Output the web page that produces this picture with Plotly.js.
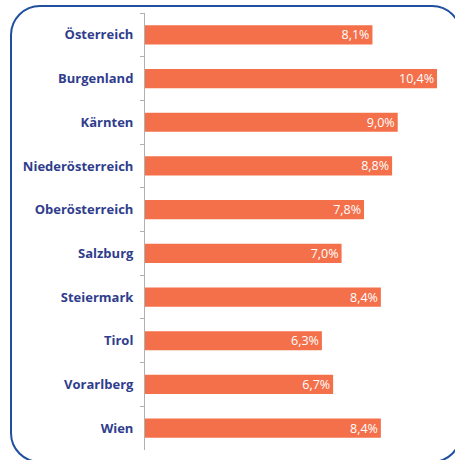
<!DOCTYPE html>
<html>
<head>
<meta charset="utf-8">
<script src="https://cdn.plot.ly/plotly-3.0.1.min.js"></script>
<style>
html,body{margin:0;padding:0;width:455px;height:460px;overflow:hidden;background:#fff;}
#frame{position:absolute;left:10px;top:5px;width:452px;height:458px;border:2.5px solid #1f4f9f;border-radius:30px;box-sizing:border-box;}
#chart{position:absolute;left:0;top:0;width:455px;height:460px;}
</style>
</head>
<body>
<div id="frame"></div>
<div id="chart"></div>
<script>
const regions = ["Österreich","Burgenland","Kärnten","Niederösterreich","Oberösterreich","Salzburg","Steiermark","Tirol","Vorarlberg","Wien"];
const rates = [8.1,10.4,9.0,8.8,7.8,7.0,8.4,6.3,6.7,8.4];
const rateLabels = rates.map(v => v.toFixed(1).replace('.', ',') + '%');

const trace = {
  type: 'bar',
  orientation: 'h',
  y: regions,
  x: rates,
  text: rateLabels,
  textposition: 'inside',
  insidetextanchor: 'end',
  constraintext: 'none',
  textangle: 0,
  insidetextfont: {family: 'Open Sans, sans-serif', size: 12.5, color: '#ffffff'},
  marker: {color: '#f4704a'},
  hoverinfo: 'none',
  cliponaxis: false
};

const layout = {
  width: 455, height: 460,
  margin: {l: 145, r: 0, t: 13, b: 10},
  paper_bgcolor: 'rgba(0,0,0,0)',
  plot_bgcolor: 'rgba(0,0,0,0)',
  bargap: 0.56,
  showlegend: false,
  xaxis: {range: [0, 11.04], visible: false, fixedrange: true},
  yaxis: {
    autorange: 'reversed',
    showline: true, linecolor: '#b0b0b0', linewidth: 1,
    ticks: 'outside', ticklen: 4, tickcolor: '#b0b0b0',
    tickson: 'boundaries',
    ticklabelstandoff: 8,
    tickfont: {family: 'Open Sans, sans-serif', size: 13, color: '#2f3d8c', weight: 'bold'},
    showgrid: false, zeroline: false, fixedrange: true
  }
};

Plotly.newPlot('chart', [trace], layout, {displayModeBar: false, staticPlot: true});
</script>
</body>
</html>
